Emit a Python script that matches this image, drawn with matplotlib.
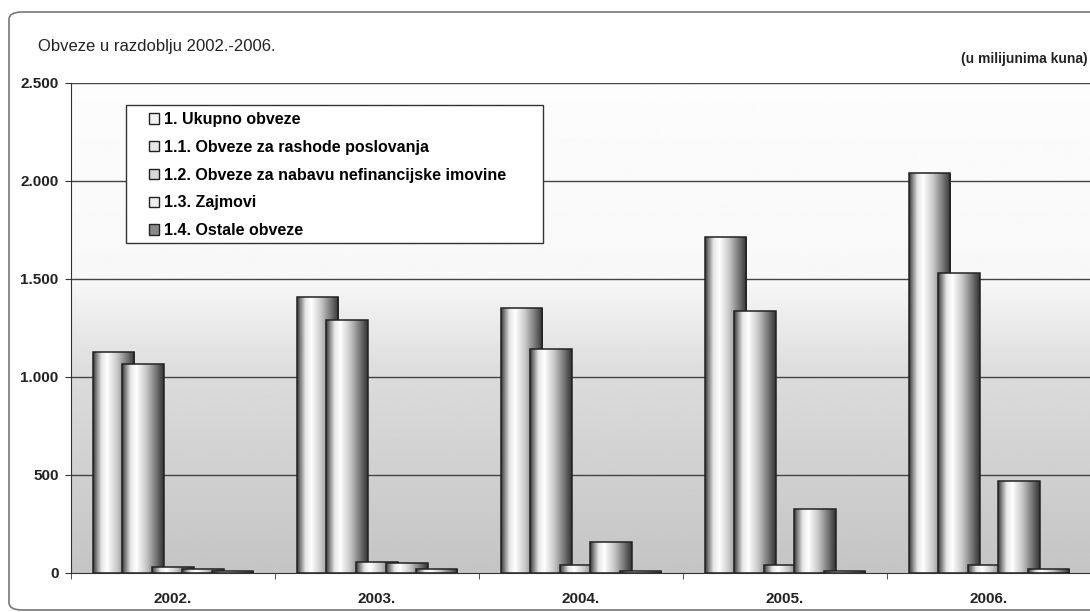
import numpy as np
import matplotlib
matplotlib.use('Agg')
import matplotlib.pyplot as plt
from matplotlib.patches import Patch, FancyBboxPatch, Rectangle
from matplotlib.ticker import FuncFormatter

plt.rcParams['font.family'] = ['Liberation Sans', 'DejaVu Sans']

# podaci (u milijunima kuna)
godine = ['2002.', '2003.', '2004.', '2005.', '2006.']
serije = ['1. Ukupno obveze',
          '1.1. Obveze za rashode poslovanja',
          '1.2. Obveze za nabavu nefinancijske imovine',
          '1.3. Zajmovi',
          '1.4. Ostale obveze']
ukupno = [1128, 1408, 1352, 1714, 2041]
rashodi = [1066, 1291, 1143, 1337, 1531]
nefin = [32, 56, 40, 40, 40]
zajmovi = [22, 51, 158, 327, 469]
ostale = [12, 20, 12, 10, 18]
vrijednosti = [ukupno, rashodi, nefin, zajmovi, ostale]

yticks = [0, 500, 1000, 1500, 2000, 2500]

# profil sjenčanja valjka (lijevo -> desno)
prof_x = [0.0, 0.06, 0.2, 0.34, 0.58, 0.85, 1.0]
prof_v = [0.22, 0.45, 0.9, 1.0, 0.78, 0.42, 0.2]
profil = np.interp(np.linspace(0, 1, 64), prof_x, prof_v)[None, :]

fig = plt.figure(figsize=(10.9, 6.12), dpi=100)
fig.patch.set_facecolor('white')

# okvir grafikona
okvir = FancyBboxPatch((9 / 1090, 2 / 612), 1.2, 598 / 612,
                       boxstyle='round,pad=0,rounding_size=0.012',
                       transform=fig.transFigure, facecolor='white',
                       edgecolor='#777777', linewidth=1.2, zorder=-10)
fig.patches.append(okvir)

ax = fig.add_axes([71 / 1090, 1 - 573 / 612, 1020 / 1090, 490 / 612])
ax.set_facecolor('none')

# pozadina s gradijentom
bg_y = [0.0, 0.4, 0.6, 1.0]
bg_v = [0.77, 0.86, 0.97, 0.99]
bg = np.interp(np.linspace(0, 1, 256), bg_y, bg_v)[:, None]
ax.imshow(bg, extent=[0, 1, 0, 1], transform=ax.transAxes, origin='lower',
          cmap='gray', vmin=0, vmax=1, aspect='auto', zorder=0)

for yv in yticks[1:]:
    ax.axhline(yv, color='#444444', linewidth=1.0, zorder=1)

x = np.arange(len(godine))
korak = 0.146
sirina = 0.205
for i, vals in enumerate(vrijednosti):
    pomak = (i - 2) * korak
    bars = ax.bar(x + pomak, vals, width=sirina, facecolor='none',
                  edgecolor='#222222', linewidth=1.1, zorder=2 + i * 0.1 + 0.05)
    for b in bars:
        x0, w, h = b.get_x(), b.get_width(), b.get_height()
        im = ax.imshow(profil, extent=[x0, x0 + w, 0, h], cmap='gray',
                       vmin=0, vmax=1, aspect='auto', zorder=2 + i * 0.1,
                       interpolation='bilinear')
        im.set_clip_path(b)

ax.set_xlim(-0.5, len(godine) - 0.5)
ax.set_ylim(0, 2500)
ax.set_aspect('auto')

ax.set_yticks(yticks)
ax.yaxis.set_major_formatter(FuncFormatter(lambda v, p: f'{int(v):,}'.replace(',', '.')))
ax.set_xticks(x)
ax.set_xticklabels(godine)
ax.set_xticks(np.arange(-0.5, len(godine)), minor=True)
ax.tick_params(axis='x', which='major', length=0, pad=14)
ax.tick_params(axis='x', which='minor', length=4, direction='out', color='#333333')
ax.tick_params(axis='y', length=4, direction='out', color='#333333', pad=5)
for lab in ax.get_yticklabels() + ax.get_xticklabels():
    lab.set_fontweight('bold')
    lab.set_fontsize(11)
    lab.set_color('#222222')

for s in ['top', 'right']:
    ax.spines[s].set_visible(False)
ax.spines['left'].set_color('#333333')
ax.spines['bottom'].set_color('#333333')
ax.spines['left'].set_zorder(5)
ax.spines['bottom'].set_zorder(5)

# okvir legende
ax.add_patch(Rectangle((55 / 1020, 330 / 490), 417 / 1020, 138 / 490,
                       transform=ax.transAxes, facecolor='white',
                       edgecolor='#333333', linewidth=1.0, zorder=9))

boje = ['#f2f2f2', '#e6e6e6', '#d8d8d8', '#ececec', '#8a8a8a']
ruke = [Patch(facecolor=c, edgecolor='#222222', linewidth=1.0) for c in boje]
leg = ax.legend(ruke, serije, loc='upper left',
                bbox_to_anchor=(78 / 1020, 461 / 490),
                borderaxespad=0, borderpad=0, frameon=False,
                handlelength=0.62, handleheight=0.62, handletextpad=0.3,
                labelspacing=0.8, prop={'weight': 'bold', 'size': 11.5})
leg.set_zorder(10)

fig.text(38 / 1090, 1 - 46 / 612, 'Obveze u razdoblju 2002.-2006.',
         fontsize=12, color='#222222', va='center', ha='left')
fig.text(1088 / 1090, 1 - 59 / 612, '(u milijunima kuna)', fontsize=10,
         fontweight='bold', color='#222222', va='center', ha='right')

plt.savefig('out.png', dpi=100)
plt.close()
